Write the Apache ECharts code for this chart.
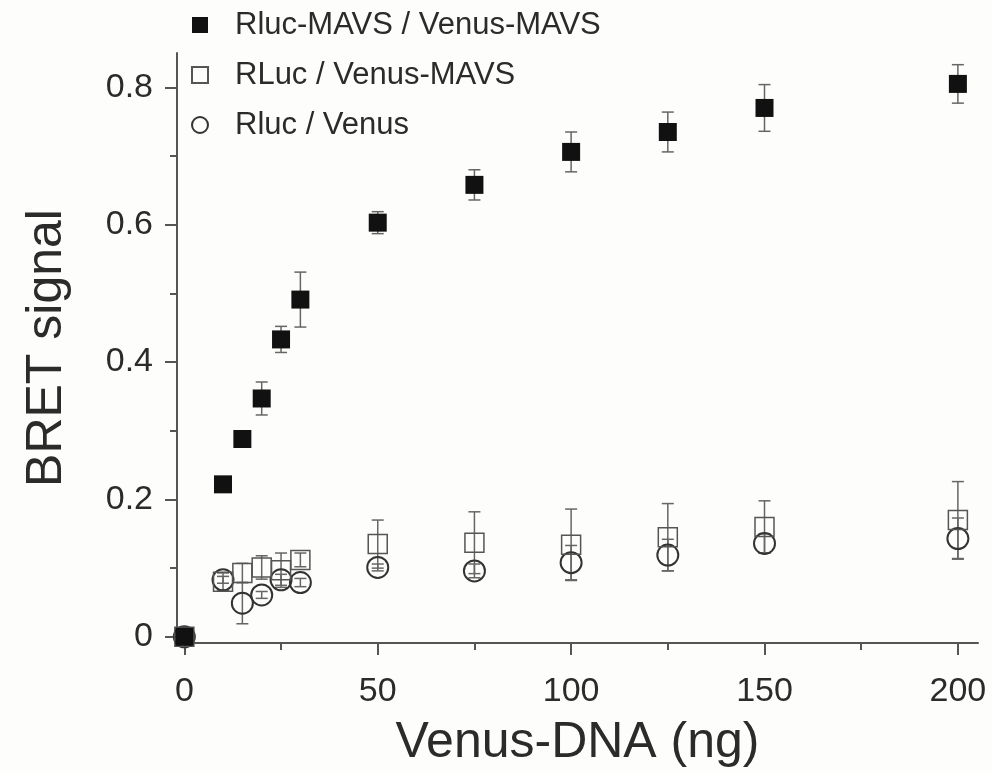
<!DOCTYPE html>
<html>
<head>
<meta charset="utf-8">
<script src="https://cdn.jsdelivr.net/npm/echarts@6/dist/echarts.min.js"></script>
<style>
    html, body { margin: 0; padding: 0; background: #fdfdfb; }
    #chart { width: 992px; height: 773px; }
</style>
</head>
<body>
<div id="chart"></div>
<script>
const seriesNames = ['Rluc-MAVS / Venus-MAVS', 'RLuc / Venus-MAVS', 'Rluc / Venus'];
const dnaAmounts = [0, 10, 15, 20, 25, 30, 50, 75, 100, 125, 150, 200];

// BRET signal
const mavsMavs = [0, 0.222, 0.288, 0.347, 0.433, 0.491, 0.603, 0.658, 0.706, 0.735, 0.770, 0.805];
const mavsMavsErr = [0, 0.004, 0.004, 0.024, 0.019, 0.040, 0.016, 0.022, 0.029, 0.029, 0.034, 0.028];
const rlucMavs = [0, 0.080, 0.093, 0.101, 0.097, 0.112, 0.135, 0.137, 0.134, 0.145, 0.160, 0.170];
const rlucMavsErr = [0, 0.013, 0.014, 0.017, 0.025, 0.010, 0.035, 0.045, 0.052, 0.049, 0.038, 0.056];
const rlucVenus = [0, 0.083, 0.049, 0.061, 0.083, 0.079, 0.101, 0.096, 0.108, 0.119, 0.136, 0.143];
const rlucVenusErr = [0, 0.005, 0.030, 0.005, 0.008, 0.006, 0.005, 0.010, 0.025, 0.023, 0.014, 0.030];

const xMajorTicks = [0, 50, 100, 150, 200];
const xMinorTicks = [25, 75, 125, 175];
const yMajorTicks = [0, 0.2, 0.4, 0.6, 0.8];
const yMinorTicks = [0.1, 0.3, 0.5, 0.7];

const textColor = '#2b2b2b';
const axisColor = '#555';
const fontFamily = 'Arial, "Liberation Sans", Helvetica, sans-serif';

function points(ys) {
    return dnaAmounts.map(function (x, i) { return [x, ys[i]]; });
}

function errPoints(ys, errs) {
    return dnaAmounts.map(function (x, i) { return [x, ys[i], errs[i]]; });
}

function errorBars(name, ys, errs) {
    return {
        name: name,
        type: 'custom',
        z: 1,
        silent: true,
        renderItem: function (params, api) {
            const x = api.value(0);
            const y = api.value(1);
            const e = api.value(2);
            if (!e) {
                return null;
            }
            const top = api.coord([x, y + e]);
            const bot = api.coord([x, y - e]);
            const cap = 6;
            const style = {stroke: '#666', lineWidth: 1.5, fill: null};
            return {
                type: 'group',
                children: [
                    {type: 'line', shape: {x1: top[0], y1: top[1], x2: bot[0], y2: bot[1]}, style: style},
                    {type: 'line', shape: {x1: top[0] - cap, y1: top[1], x2: top[0] + cap, y2: top[1]}, style: style},
                    {type: 'line', shape: {x1: bot[0] - cap, y1: bot[1], x2: bot[0] + cap, y2: bot[1]}, style: style}
                ]
            };
        },
        data: errPoints(ys, errs)
    };
}

const chart = echarts.init(document.getElementById('chart'));

const xRange = {min: -1.9, max: 205.2};
const yRange = {min: -0.009, max: 0.85};

const option = {
    backgroundColor: '#fdfdfb',
    textStyle: {fontFamily: fontFamily},
    animation: false,
    grid: {
        left: 177,
        right: 14,
        top: 53,
        bottom: 130
    },
    legend: {
        orient: 'vertical',
        left: 186,
        top: 3,
        itemWidth: 16,
        itemHeight: 16,
        itemGap: 16,
        data: seriesNames,
        textStyle: {
            fontSize: 31,
            color: textColor,
            lineHeight: 34,
            padding: [0, 0, 0, 22]
        }
    },
    xAxis: [{
        type: 'value',
        min: xRange.min,
        max: xRange.max,
        name: 'Venus-DNA (ng)',
        nameLocation: 'middle',
        nameGap: 75,
        nameTextStyle: {fontSize: 50, color: textColor},
        axisLine: {onZero: false, lineStyle: {color: axisColor, width: 2}},
        axisTick: {customValues: xMajorTicks, length: 12, lineStyle: {color: axisColor, width: 2}},
        axisLabel: {customValues: xMajorTicks, fontSize: 34, color: textColor, margin: 32},
        splitLine: {show: false}
    }, {
        type: 'value',
        position: 'bottom',
        min: xRange.min,
        max: xRange.max,
        axisLine: {show: false, onZero: false},
        axisTick: {customValues: xMinorTicks, length: 7, lineStyle: {color: axisColor, width: 2}},
        axisLabel: {show: false},
        splitLine: {show: false}
    }],
    yAxis: [{
        type: 'value',
        min: yRange.min,
        max: yRange.max,
        name: 'BRET signal',
        nameLocation: 'middle',
        nameGap: 105,
        nameTextStyle: {fontSize: 50, color: textColor},
        axisLine: {onZero: false, lineStyle: {color: axisColor, width: 2}},
        axisTick: {customValues: yMajorTicks, length: 12, lineStyle: {color: axisColor, width: 2}},
        axisLabel: {
            customValues: yMajorTicks,
            fontSize: 34,
            color: textColor,
            margin: 24,
            formatter: function (v) { return v === 0 ? '0' : v.toFixed(1); }
        },
        splitLine: {show: false}
    }, {
        type: 'value',
        position: 'left',
        min: yRange.min,
        max: yRange.max,
        axisLine: {show: false, onZero: false},
        axisTick: {customValues: yMinorTicks, length: 7, lineStyle: {color: axisColor, width: 2}},
        axisLabel: {show: false},
        splitLine: {show: false}
    }],
    series: [
        errorBars('err-rluc-venus', rlucVenus, rlucVenusErr),
        errorBars('err-rluc-mavs', rlucMavs, rlucMavsErr),
        errorBars('err-mavs-mavs', mavsMavs, mavsMavsErr),
        {
            name: seriesNames[2],
            type: 'scatter',
            z: 3,
            symbol: 'circle',
            symbolSize: 21,
            itemStyle: {color: 'rgba(0,0,0,0)', borderColor: '#333', borderWidth: 2, opacity: 1},
            data: points(rlucVenus)
        },
        {
            name: seriesNames[1],
            type: 'scatter',
            z: 3,
            symbol: 'rect',
            symbolSize: 19,
            itemStyle: {color: 'rgba(0,0,0,0)', borderColor: '#555', borderWidth: 1.5, opacity: 1},
            data: points(rlucMavs)
        },
        {
            name: seriesNames[0],
            type: 'scatter',
            z: 4,
            symbol: 'rect',
            symbolSize: 18,
            itemStyle: {color: '#111', opacity: 1},
            data: points(mavsMavs)
        }
    ]
};

chart.setOption(option);

window.addEventListener('resize', function () {
    chart.resize();
});
</script>
</body>
</html>
